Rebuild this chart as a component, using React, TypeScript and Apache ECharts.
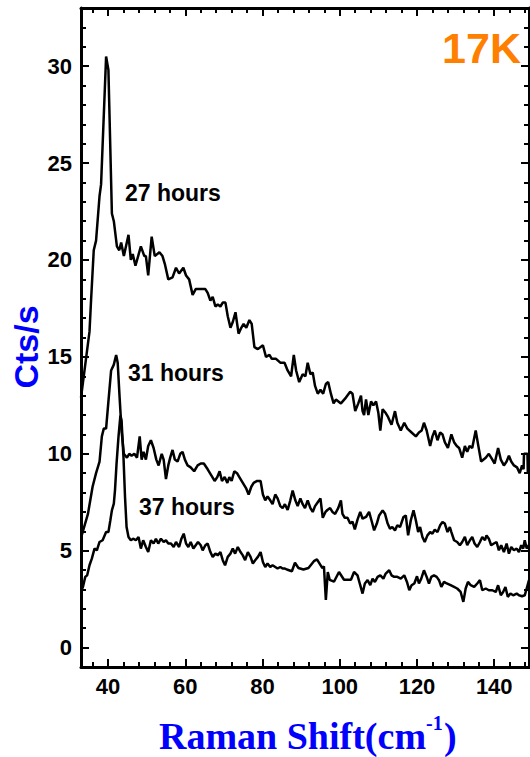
import React, { useEffect, useRef } from "react";
import * as echarts from "echarts";

// ---- Data (Raman shift in cm^-1, counts per second) ----
const xMajorTicks = [40, 60, 80, 100, 120, 140];
const xMinorTicks = [36, 44, 48, 52, 56, 64, 68, 72, 76, 84, 88, 92, 96, 104, 108, 112, 116, 124, 128, 132, 136, 144, 148];
const yMajorTicks = [0, 5, 10, 15, 20, 25, 30];
const yMinorTicks = [1, 2, 3, 4, 6, 7, 8, 9, 11, 12, 13, 14, 16, 17, 18, 19, 21, 22, 23, 24, 26, 27, 28, 29, 31, 32];
const seriesLabels = ["27 hours", "31 hours", "37 hours"];
const temperatureLabel = "17K";

const spectrum27h: [number, number][] = [
  [33.0, 12.9], [35.2, 16.3], [35.6, 17.9], [36.3, 20.5], [36.9, 21.0], [37.8, 23.3], [38.2, 23.9],
  [39.5, 30.5], [40.1, 29.8], [41.0, 22.4], [41.5, 22.0], [42.3, 20.7], [42.9, 20.5], [43.4, 20.9],
  [44.1, 20.2], [45.3, 21.3], [45.9, 20.0], [46.4, 20.3], [47.1, 19.7], [48.5, 20.7], [49.4, 20.2],
  [49.8, 20.2], [50.4, 19.2], [51.3, 21.2], [52.1, 20.2], [53.3, 20.4], [54.1, 20.2], [54.7, 19.8],
  [55.6, 19.0], [56.7, 19.1], [57.6, 19.6], [58.4, 19.3], [59.5, 19.6], [60.2, 19.2], [61.0, 19.0],
  [61.9, 18.2], [62.7, 18.5], [64.0, 18.5], [65.2, 18.5], [65.8, 18.3], [66.5, 17.9], [67.1, 18.1],
  [67.8, 17.6], [68.4, 17.7], [69.1, 17.6], [69.7, 17.8], [70.4, 17.8], [71.0, 17.1], [71.7, 16.5],
  [72.3, 16.8], [73.0, 17.3], [73.8, 16.2], [74.5, 16.5], [75.1, 16.7], [75.8, 16.5], [76.6, 16.9],
  [77.2, 16.7], [77.9, 15.5], [78.8, 15.4], [80.1, 15.6], [80.9, 15.0], [81.8, 15.1], [82.4, 14.9],
  [83.5, 14.9], [84.6, 14.7], [85.7, 14.7], [86.5, 14.3], [87.4, 14.0], [88.1, 15.1], [88.7, 14.3],
  [89.5, 13.7], [90.4, 14.1], [91.1, 14.0], [91.7, 14.7], [92.4, 14.1], [93.0, 14.2], [93.6, 13.5],
  [94.3, 13.1], [95.0, 13.3], [95.7, 13.1], [96.4, 13.6], [97.0, 13.7], [97.7, 13.1], [98.4, 12.6],
  [99.0, 12.8], [100.3, 12.6], [101.6, 12.9], [102.7, 13.2], [103.3, 13.1], [104.0, 12.2], [104.8, 12.6],
  [105.5, 13.0], [105.9, 12.2], [106.3, 12.0], [106.8, 12.8], [107.4, 12.0], [108.1, 12.7], [108.7, 12.5],
  [109.4, 12.7], [110.0, 12.1], [110.5, 11.2], [111.1, 12.3], [111.9, 12.1], [112.5, 11.9], [113.4, 11.5],
  [114.3, 12.2], [114.9, 11.6], [115.8, 11.2], [116.7, 11.6], [117.5, 11.3], [118.6, 11.1], [119.7, 10.9],
  [120.5, 11.1], [121.2, 11.2], [121.8, 11.6], [122.5, 11.2], [123.4, 10.4], [124.0, 10.9], [124.6, 11.2],
  [125.3, 10.7], [126.0, 11.1], [126.6, 11.0], [127.2, 10.6], [128.0, 10.3], [128.9, 11.0], [129.6, 10.6],
  [130.3, 10.4], [130.9, 10.3], [131.7, 9.8], [132.4, 10.4], [133.0, 10.1], [133.6, 10.4], [134.3, 10.3],
  [135.2, 11.2], [135.8, 10.5], [136.6, 9.6], [137.8, 9.8], [138.6, 10.0], [139.2, 9.8], [140.1, 9.5],
  [141.0, 10.3], [141.7, 9.7], [142.5, 9.4], [143.2, 9.6], [143.8, 9.9], [144.4, 9.6], [145.1, 9.4],
  [145.9, 9.3], [146.6, 9.0], [147.2, 9.4], [147.6, 9.2], [147.7, 10.0], [148.6, 10.0], [148.7, 9.0],
  [149.0, 9.2],
];

const spectrum31h: [number, number][] = [
  [33.2, 5.8], [34.8, 6.9], [36.0, 8.3], [36.9, 9.0], [37.8, 9.6], [38.4, 10.9], [38.9, 11.3],
  [39.5, 11.3], [40.1, 12.7], [40.8, 14.3], [41.5, 14.6], [42.1, 15.1], [42.5, 14.7], [43.0, 12.9],
  [43.5, 11.2], [44.1, 10.0], [44.9, 9.8], [45.5, 10.0], [46.1, 9.9], [46.8, 10.0], [47.5, 9.8],
  [48.2, 10.9], [48.7, 9.7], [49.2, 10.1], [49.8, 9.7], [50.4, 10.4], [51.1, 10.7], [51.8, 10.3],
  [52.5, 9.7], [53.1, 9.4], [53.9, 10.0], [54.4, 9.7], [55.0, 8.7], [55.6, 9.4], [56.1, 9.8],
  [56.7, 10.2], [57.3, 9.7], [58.0, 9.6], [58.7, 10.0], [59.3, 10.1], [59.9, 9.7], [60.6, 9.4],
  [61.4, 9.3], [62.3, 9.1], [63.2, 9.4], [64.0, 9.5], [64.8, 9.5], [65.8, 9.2], [66.7, 8.9],
  [67.6, 8.6], [68.3, 8.8], [68.9, 9.1], [69.5, 8.6], [70.2, 8.8], [70.9, 8.5], [71.4, 8.8],
  [72.0, 8.6], [72.7, 9.1], [73.4, 9.0], [74.0, 8.8], [74.9, 8.5], [75.8, 8.2], [76.4, 7.9],
  [77.1, 8.3], [77.7, 8.5], [78.6, 8.6], [79.5, 8.6], [80.1, 7.9], [80.7, 7.6], [81.3, 7.8],
  [82.0, 7.6], [82.6, 7.4], [83.3, 7.9], [83.9, 7.7], [84.6, 7.3], [85.2, 7.2], [85.8, 7.4],
  [86.5, 7.1], [87.2, 7.6], [87.8, 8.1], [88.5, 7.6], [89.1, 7.3], [89.8, 7.7], [90.4, 7.4],
  [91.0, 7.2], [91.7, 7.6], [92.4, 7.2], [93.0, 7.0], [93.6, 7.3], [94.3, 7.5], [95.0, 7.7],
  [95.6, 6.7], [96.3, 7.0], [96.8, 7.1], [97.5, 7.2], [98.1, 7.0], [98.8, 6.9], [99.6, 7.2],
  [100.3, 7.6], [100.7, 6.9], [101.3, 6.7], [102.0, 6.7], [102.7, 6.4], [103.3, 6.5], [103.9, 6.1],
  [104.6, 6.6], [105.3, 7.0], [105.9, 6.65], [106.8, 6.74], [107.6, 7.0], [108.2, 6.57], [108.9, 6.05],
  [109.6, 6.4], [110.2, 6.82], [111.1, 7.08], [111.7, 6.91], [112.4, 6.4], [113.0, 6.14], [113.6, 6.22],
  [114.3, 6.05], [114.9, 6.31], [115.6, 6.22], [116.5, 6.74], [117.1, 6.82], [117.7, 5.79], [118.4, 6.57],
  [119.1, 7.08], [119.7, 6.57], [120.3, 5.96], [120.8, 6.22], [121.4, 5.71], [122.0, 5.45], [122.7, 5.79],
  [123.4, 5.96], [124.0, 5.88], [124.6, 6.09], [125.3, 5.96], [126.0, 6.31], [126.6, 6.48], [127.2, 6.4],
  [127.9, 5.96], [128.5, 6.22], [128.9, 5.96], [129.6, 5.54], [130.4, 5.45], [131.1, 5.28], [131.7, 5.45],
  [132.4, 5.71], [133.0, 5.28], [133.7, 5.54], [134.3, 5.71], [134.9, 5.37], [135.6, 5.19], [136.3, 5.45],
  [136.9, 5.71], [137.6, 5.54], [138.0, 5.79], [138.6, 5.62], [139.2, 5.28], [139.9, 5.37], [140.6, 5.45],
  [141.2, 5.02], [141.8, 5.28], [142.5, 4.93], [143.2, 5.37], [143.8, 4.85], [144.4, 5.19], [145.1, 5.02],
  [145.8, 5.11], [146.4, 4.93], [147.0, 5.28], [147.5, 5.11], [147.9, 5.54], [148.4, 5.11], [149.0, 5.3],
];

const spectrum37h: [number, number][] = [
  [33.2, 3.0], [33.5, 3.13], [34.1, 3.65], [34.6, 3.73], [35.2, 4.25], [35.8, 4.59], [36.5, 5.11],
  [37.1, 5.02], [37.8, 5.45], [38.6, 5.54], [39.5, 5.96], [40.1, 5.96], [40.6, 6.57], [41.0, 7.08],
  [41.5, 7.43], [41.8, 8.11], [42.2, 9.48], [42.7, 10.86], [43.2, 11.97], [43.5, 11.71], [44.0, 9.83],
  [44.4, 7.77], [44.8, 6.22], [45.3, 5.71], [45.9, 5.54], [46.6, 5.62], [47.2, 5.54], [47.9, 5.71],
  [48.5, 5.11], [49.1, 5.54], [49.8, 5.19], [50.4, 4.93], [51.1, 5.54], [51.8, 5.37], [52.4, 5.62],
  [53.0, 5.37], [53.7, 5.62], [54.4, 5.45], [55.0, 5.54], [55.6, 5.37], [56.3, 5.37], [57.0, 5.19],
  [57.6, 5.45], [58.4, 5.19], [59.0, 5.62], [59.6, 5.88], [60.2, 5.37], [60.8, 5.19], [61.4, 5.45],
  [62.1, 5.11], [63.3, 5.45], [64.0, 5.28], [64.5, 5.02], [65.2, 5.28], [65.8, 5.37], [66.5, 4.93],
  [67.1, 4.68], [67.8, 4.85], [68.4, 4.76], [69.1, 4.93], [69.7, 4.51], [70.3, 4.25], [71.0, 4.68],
  [71.7, 4.85], [72.3, 5.11], [72.9, 4.85], [73.6, 5.19], [74.3, 4.93], [74.9, 4.76], [75.5, 4.51],
  [76.2, 4.93], [76.9, 4.68], [77.5, 4.34], [78.1, 4.51], [78.8, 4.68], [79.5, 4.93], [80.1, 4.42],
  [80.7, 4.16], [81.3, 4.34], [82.0, 4.16], [82.6, 4.25], [83.3, 4.16], [83.9, 4.08], [84.6, 4.16],
  [85.2, 4.08], [85.8, 4.08], [86.3, 4.03], [87.6, 3.94], [88.4, 4.38], [89.3, 4.11], [90.6, 4.03],
  [91.9, 4.11], [93.3, 4.46], [94.1, 4.55], [95.5, 4.1], [95.9, 4.2], [96.4, 2.46], [96.9, 3.9],
  [97.4, 3.5], [98.5, 3.4], [99.8, 3.9], [101.1, 3.5], [102.9, 3.5], [103.7, 3.9], [104.6, 3.73],
  [105.3, 3.22], [105.9, 2.79], [106.5, 3.31], [107.2, 3.48], [107.9, 3.22], [108.5, 3.56], [109.1, 3.39],
  [109.8, 3.65], [110.5, 3.73], [111.3, 3.56], [111.9, 3.82], [112.8, 3.99], [113.4, 3.73], [114.1, 3.65],
  [114.9, 3.65], [115.8, 3.56], [116.7, 3.73], [117.4, 3.39], [118.0, 2.96], [118.6, 3.22], [119.3, 3.31],
  [120.0, 3.68], [120.5, 3.31], [121.1, 3.56], [121.8, 3.99], [122.5, 3.65], [123.1, 3.31], [123.7, 3.65],
  [124.4, 3.73], [125.1, 3.65], [125.7, 3.48], [126.3, 3.13], [127.0, 3.39], [127.7, 3.31], [128.7, 3.22],
  [129.6, 3.13], [130.4, 3.05], [131.3, 2.87], [132.0, 2.36], [132.6, 3.05], [133.2, 3.39], [133.9, 3.22],
  [134.8, 3.13], [135.6, 3.31], [136.3, 3.48], [136.9, 2.96], [137.8, 3.05], [138.6, 2.96], [139.5, 2.96],
  [140.4, 2.87], [141.0, 3.22], [141.7, 2.7], [142.3, 2.87], [142.9, 3.13], [143.5, 2.62], [144.2, 2.79],
  [144.9, 2.7], [145.8, 2.79], [146.4, 2.7], [147.2, 2.65], [147.9, 2.7], [148.4, 3.05], [149.0, 3.48],
];

const X_MIN = 33;
const X_MAX = 149;
const Y_MIN = -1;
const Y_MAX = 33;

const SANS = '"Liberation Sans", Arial, sans-serif';
const SERIF = '"Liberation Serif", "Times New Roman", serif';

function xAxisDef(position: "bottom" | "top", major: boolean) {
  return {
    type: "value",
    min: X_MIN,
    max: X_MAX,
    position,
    gridIndex: 0,
    axisLine: { show: major, onZero: false, lineStyle: { color: "#000", width: 3 } },
    axisTick: {
      show: true,
      inside: true,
      length: major ? 8 : 5,
      lineStyle: { color: "#000", width: 2 },
      customValues: major ? xMajorTicks : xMinorTicks,
    },
    axisLabel: {
      show: major && position === "bottom",
      customValues: xMajorTicks,
      margin: 8,
      fontFamily: SANS,
      fontWeight: "bold",
      fontSize: 22,
      color: "#000",
    },
    splitLine: { show: false },
  };
}

function yAxisDef(position: "left" | "right", major: boolean) {
  return {
    type: "value",
    min: Y_MIN,
    max: Y_MAX,
    position,
    gridIndex: 0,
    axisLine: { show: major, onZero: false, lineStyle: { color: "#000", width: 3 } },
    axisTick: {
      show: true,
      inside: true,
      length: major ? 8 : 5,
      lineStyle: { color: "#000", width: 2 },
      customValues: major ? yMajorTicks : yMinorTicks,
    },
    axisLabel: {
      show: major && position === "left",
      customValues: yMajorTicks,
      margin: 9,
      fontFamily: SANS,
      fontWeight: "bold",
      fontSize: 22,
      color: "#000",
    },
    splitLine: { show: false },
  };
}

function lineSeries(name: string, data: [number, number][]) {
  return {
    name,
    type: "line",
    xAxisIndex: 0,
    yAxisIndex: 0,
    data,
    showSymbol: false,
    symbol: "none",
    lineStyle: { color: "#000", width: 2.5 },
    clip: true,
  };
}

export default function App() {
  const ref = useRef<HTMLDivElement>(null);

  useEffect(() => {
    if (!ref.current) return;
    const chart = echarts.init(ref.current, undefined, { renderer: "svg" });
    chart.setOption({
      animation: false,
      backgroundColor: "#fff",
      grid: { left: 81, right: 1, top: 8, bottom: 90, containLabel: false },
      xAxis: [
        xAxisDef("bottom", true),
        xAxisDef("bottom", false),
        xAxisDef("top", true),
        xAxisDef("top", false),
      ],
      yAxis: [
        yAxisDef("left", true),
        yAxisDef("left", false),
        yAxisDef("right", true),
        yAxisDef("right", false),
      ],
      series: [
        lineSeries(seriesLabels[0], spectrum27h),
        lineSeries(seriesLabels[1], spectrum31h),
        lineSeries(seriesLabels[2], spectrum37h),
      ],
      graphic: [
        {
          type: "text", x: 125, y: 193,
          style: { text: seriesLabels[0], font: `bold 23px ${SANS}`, fill: "#000", textVerticalAlign: "middle" },
        },
        {
          type: "text", x: 128, y: 373,
          style: { text: seriesLabels[1], font: `bold 23px ${SANS}`, fill: "#000", textVerticalAlign: "middle" },
        },
        {
          type: "text", x: 139, y: 507,
          style: { text: seriesLabels[2], font: `bold 23px ${SANS}`, fill: "#000", textVerticalAlign: "middle" },
        },
        {
          type: "text", x: 521, y: 47.5,
          style: { text: temperatureLabel, font: `bold 43px ${SANS}`, fill: "#FF8000", textAlign: "right", textVerticalAlign: "middle" },
        },
        {
          type: "text", x: 26, y: 347, rotation: Math.PI / 2,
          style: { text: "Cts/s", font: `bold 34px ${SANS}`, fill: "#0000FF", textAlign: "center", textVerticalAlign: "middle" },
        },
        {
          type: "text", x: 159, y: 735.5,
          style: { text: "Raman Shift(cm", font: `bold 38px ${SERIF}`, fill: "#0000FF", textAlign: "left", textVerticalAlign: "middle" },
        },
        {
          type: "text", x: 426, y: 723,
          style: { text: "-1", font: `bold 20px ${SERIF}`, fill: "#0000FF", textAlign: "left", textVerticalAlign: "middle" },
        },
        {
          type: "text", x: 444, y: 735.5,
          style: { text: ")", font: `bold 38px ${SERIF}`, fill: "#0000FF", textAlign: "left", textVerticalAlign: "middle" },
        },
      ],
    });
    return () => chart.dispose();
  }, []);

  return (
    <div
      ref={ref}
      style={{ position: "fixed", left: 0, top: 0, width: 530, height: 757, background: "#fff" }}
    />
  );
}
